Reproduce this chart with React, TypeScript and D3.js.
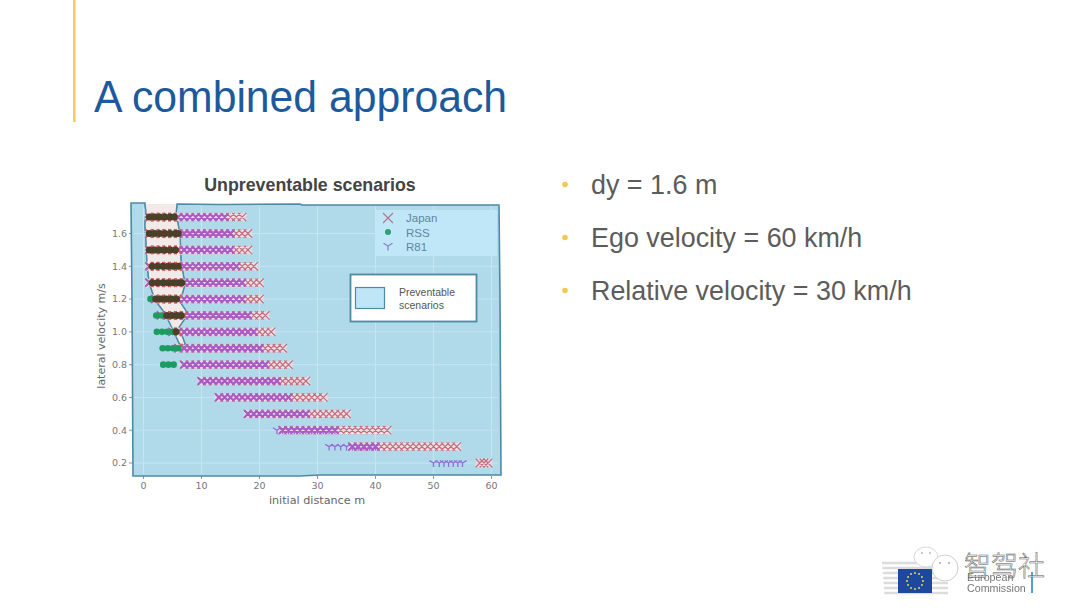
import React from "react";
import * as d3 from "d3";

const velocities = [1.7, 1.6, 1.5, 1.4, 1.3, 1.2, 1.1, 1.0, 0.9, 0.8, 0.7, 0.6, 0.5, 0.4, 0.3, 0.2];
const japanDistances: number[][] = [
  [1,2,3,4,5,6,7,8,9,10,11,12,13,14,15,16,17],
  [1,2,3,4,5,6,7,8,9,10,11,12,13,14,15,16,17,18],
  [1,2,3,4,5,6,7,8,9,10,11,12,13,14,15,16,17,18],
  [1,2,3,4,5,6,7,8,9,10,11,12,13,14,15,16,17,18,19],
  [1,2,3,4,5,6,7,8,9,10,11,12,13,14,15,16,17,18,19,20],
  [2,3,4,5,6,7,8,9,10,11,12,13,14,15,16,17,18,19,20],
  [3,4,5,6,7,8,9,10,11,12,13,14,15,16,17,18,19,20,21],
  [5,6,7,8,9,10,11,12,13,14,15,16,17,18,19,20,21,22],
  [6,7,8,9,10,11,12,13,14,15,16,17,18,19,20,21,22,23,24],
  [7,8,9,10,11,12,13,14,15,16,17,18,19,20,21,22,23,24,25],
  [10,11,12,13,14,15,16,17,18,19,20,21,22,23,24,25,26,27,28],
  [13,14,15,16,17,18,19,20,21,22,23,24,25,26,27,28,29,30,31],
  [18,19,20,21,22,23,24,25,26,27,28,29,30,31,32,33,34,35],
  [24,25,26,27,28,29,30,31,32,33,34,35,36,37,38,39,40,41,42],
  [36,37,38,39,40,41,42,43,44,45,46,47,48,49,50,51,52,53,54],
  [58,58.7,59.4],
];
const r81Distances: number[][] = [
  [1,2,3,4,5,6,7,8,9,10,11,12,13,14],
  [1,2,3,4,5,6,7,8,9,10,11,12,13,14,15],
  [1,2,3,4,5,6,7,8,9,10,11,12,13,14,15],
  [1,2,3,4,5,6,7,8,9,10,11,12,13,14,15,16],
  [1,2,3,4,5,6,7,8,9,10,11,12,13,14,15,16,17],
  [2,3,4,5,6,7,8,9,10,11,12,13,14,15,16,17],
  [3,4,5,6,7,8,9,10,11,12,13,14,15,16,17,18],
  [5,6,7,8,9,10,11,12,13,14,15,16,17,18,19],
  [6,7,8,9,10,11,12,13,14,15,16,17,18,19,20],
  [7,8,9,10,11,12,13,14,15,16,17,18,19,20,21],
  [10,11,12,13,14,15,16,17,18,19,20,21,22,23],
  [13,14,15,16,17,18,19,20,21,22,23,24,25],
  [18,19,20,21,22,23,24,25,26,27,28],
  [23,24,25,26,27,28,29,30,31,32,33],
  [32,33,34,35,36,37,38,39,40],
  [50,51,51.8,52.6,53.4,54.2,55],
];
const rssDistances: number[][] = [
  [1,1.9,2.8,3.7,4.6,5.3],
  [1,1.9,2.8,3.7,4.6,5.5,6],
  [1,1.9,2.8,3.7,4.6,5.5],
  [1.5,2.4,3.3,4.2,5.1,6],
  [1.5,2.4,3.3,4.2,5.1,6,6.6],
  [1.2,2.1,3,3.9,4.8,5.7],
  [2.2,3.1,4,4.9,5.8,6.5],
  [2.3,3.2,4.1,5,5.6],
  [3.3,4.2,5.1,6],
  [3.4,4.3,5.2],
];
const xTicks = [0, 10, 20, 30, 40, 50, 60];
const yTicks = [0.2, 0.4, 0.6, 0.8, 1.0, 1.2, 1.4, 1.6];
const bullets = ["dy = 1.6 m", "Ego velocity = 60 km/h", "Relative velocity = 30 km/h"];
const legendNames = ["Japan", "RSS", "R81"];
const titleText = "A combined approach";
const chartTitle = "Unpreventable scenarios";
const xLabel = "initial distance m";
const yLabel = "lateral velocity m/s";

const overlayOutline: [number, number][] = [
  [131,203],[145,203],[146,212],[145,225],[146,240],[147,262],[149,282],[155,300],[165,313],[173,330],[181,347],
  [185,344],[179,327],[188,314],[180,302],[185,284],[181,263],[180,234],[176,214],[177,204],[220,204.5],[300,204],[302,205],[499,205],
  [500,300],[501,475],[320,475],[300,476],[133,476],[132,300],
];
const cutout: [number, number][] = [
  [145,204],[146,212],[145,225],[146,240],[147,262],[149,282],[155,300],[165,313],[173,330],[181,347],
  [185,344],[179,327],[188,314],[180,302],[185,284],[181,263],[180,234],[176,214],[177,204],
];

const x = d3.scaleLinear().domain([0, 60]).range([143.5, 491.5]);
const y = d3.scaleLinear().domain([0.2, 1.6]).range([463, 233.5]);
const line = d3.line();
const sans = "'Liberation Sans', Arial, sans-serif";
const dejavu = "'DejaVu Sans', sans-serif";
const edge = "#4d8aa6";

const xMark = (cx: number, cy: number, s = 4) => `M${cx - s},${cy - s}L${cx + s},${cy + s}M${cx - s},${cy + s}L${cx + s},${cy - s}`;
const yMark = (cx: number, cy: number, s = 4) => `M${cx},${cy}L${cx},${cy + s}M${cx},${cy}L${cx - s},${cy - s * 0.6}M${cx},${cy}L${cx + s},${cy - s * 0.6}`;
const rowPath = (rows: number[][], m: (a: number, b: number) => string) =>
  rows.map((r, i) => r.map((d) => m(x(d), y(velocities[i]))).join("")).join("");

const starAngles = d3.range(12).map((i) => (i * Math.PI) / 6);
const rssPoints = rssDistances.flatMap((r, i) => r.map((d) => ({ key: `${i}-${d}`, cx: x(d), cy: y(velocities[i]) })));
const rssInside = rssPoints.filter((p) => d3.polygonContains(cutout, [p.cx, p.cy]));
const rssOutside = rssPoints.filter((p) => !d3.polygonContains(cutout, [p.cx, p.cy]));

export default function App() {
  const japan = rowPath(japanDistances, (a, b) => xMark(a, b, 4.2));
  const japanUnder = rowPath(japanDistances, (a, b) => xMark(a, b, 3.6));
  const r81Lone = rowPath(r81Distances.map((r, i) => (i >= 13 ? r : [])), (a, b) => yMark(a, b, 4));
  const r81Over = rowPath(r81Distances.map((r, i) => r.filter((d) => japanDistances[i].some((j) => Math.abs(j - d) < 0.6))), (a, b) => xMark(a, b, 3.6));
  return (
    <svg width={1080} height={613} viewBox="0 0 1080 613" style={{ position: "fixed", left: 0, top: 0, background: "#fff" }}>
      <defs>
        <clipPath id="cut"><path d={line(cutout) + "Z"} /></clipPath>
        <filter id="soft" x="-5%" y="-5%" width="110%" height="110%"><feGaussianBlur stdDeviation="0.4" /></filter>
      </defs>

      <rect x={73} y={0} width={2.6} height={122} fill="#f6cf5a" />
      <text x={94} y={112} fontFamily={sans} fontSize={44} fill="#1c5a9c" textLength={413} lengthAdjust="spacingAndGlyphs">{titleText}</text>

      {bullets.map((b, i) => (
        <g key={b}>
          <circle cx={565} cy={184.5 + i * 53} r={2.8} fill="#f2c94c" />
          <text x={591} y={194 + i * 53} fontFamily={sans} fontSize={26.9} fill="#5c5c5c">{b}</text>
        </g>
      ))}

      <text x={310} y={191} textAnchor="middle" fontFamily={sans} fontWeight={700} fontSize={17.8} fill="#444">{chartTitle}</text>

      <g filter="url(#soft)">
        <path d={line(overlayOutline) + "Z"} fill="#b0d9ea" stroke={edge} strokeWidth={1.6} />
        <path d={line(cutout) + "Z"} fill="#f2e9e8" />
        <path d={line(cutout)!} fill="none" stroke={edge} strokeWidth={1.3} />
        {xTicks.map((t) => <line key={t} x1={x(t)} x2={x(t)} y1={206} y2={474} stroke="#c5e5f1" strokeWidth={1} />)}
        {yTicks.map((t) => <line key={t} x1={134} x2={498} y1={y(t)} y2={y(t)} stroke="#c5e5f1" strokeWidth={1} />)}
        <rect x={376} y={210} width={121} height={46} fill="#c0e7f8" />

        <path d={japanUnder} fill="none" stroke="#efdfe6" strokeWidth={4} />
        <path d={japan} fill="none" stroke="#c0707f" strokeWidth={1.3} />
        <path d={r81Lone} fill="none" stroke="#8f6fd6" strokeWidth={1.3} />
        <path d={r81Over} fill="none" stroke="#a85cc4" strokeWidth={2.2} />
        <g clipPath="url(#cut)">
          <path d={japan} fill="none" stroke="#d06050" strokeWidth={1.5} />
        </g>
        {rssOutside.map((p) => <circle key={p.key} cx={p.cx} cy={p.cy} r={3.3} fill="#1f9c62" />)}
        {rssInside.map((p) => <circle key={p.key} cx={p.cx} cy={p.cy} r={3.5} fill="#4b3f2b" />)}

        <path d={xMark(388, 218, 5)} fill="none" stroke="#b77a90" strokeWidth={1.3} />
        <circle cx={388} cy={232} r={3} fill="#2f9e73" />
        <path d={yMark(388, 246, 4.5)} fill="none" stroke="#8a80cc" strokeWidth={1.3} />
      </g>

      {legendNames.map((n, i) => (
        <text key={n} x={406} y={222 + i * 14.5} fontFamily={sans} fontSize={11.5} fill="#63859b">{n}</text>
      ))}

      <rect x={350.5} y={274.5} width={126} height={47} fill="#fff" stroke={edge} strokeWidth={1.8} />
      <rect x={355.5} y={287.5} width={29} height={21} fill="#bfe6f7" stroke={edge} strokeWidth={1.2} />
      <text x={399} y={296} fontFamily={sans} fontSize={10.5} fill="#555">Preventable</text>
      <text x={399} y={309} fontFamily={sans} fontSize={10.5} fill="#555">scenarios</text>

      {xTicks.map((t) => (
        <g key={t}>
          <line x1={x(t)} x2={x(t)} y1={476} y2={479} stroke="#777" strokeWidth={0.8} />
          <text x={x(t)} y={489} textAnchor="middle" fontFamily={dejavu} fontSize={9.5} fill="#777">{t}</text>
        </g>
      ))}
      {yTicks.map((t) => (
        <g key={t}>
          <line x1={129} x2={132} y1={y(t)} y2={y(t)} stroke="#777" strokeWidth={0.8} />
          <text x={127} y={y(t) + 3.4} textAnchor="end" fontFamily={dejavu} fontSize={9.5} fill="#777">{t.toFixed(1)}</text>
        </g>
      ))}
      <text x={317} y={504} textAnchor="middle" fontFamily={dejavu} fontSize={11.2} fill="#666">{xLabel}</text>
      <text transform="translate(105,336) rotate(-90)" textAnchor="middle" fontFamily={dejavu} fontSize={11} fill="#666">{yLabel}</text>

      <g filter="url(#soft)">
        {d3.range(7).map((i) => (
          <line key={i} x1={882 + i * 0.4} x2={948} y1={563 + i * 5} y2={563 + i * 5} stroke="#dcdcdc" strokeWidth={2.4} />
        ))}
        <rect x={898} y={569} width={34} height={24} fill="#1f4a9c" />
        {starAngles.map((a) => (
          <circle key={a} cx={915 + 8 * Math.cos(a)} cy={581 + 8 * Math.sin(a)} r={1} fill="#f3d24a" />
        ))}
        <ellipse cx={926} cy={557} rx={12} ry={10} fill="#fff" stroke="#d8d8d8" strokeWidth={1} />
        <ellipse cx={945} cy={568} rx={13} ry={13} fill="#fff" stroke="#cfcfcf" strokeWidth={1} />
        <circle cx={922} cy={553} r={1} fill="#bbb" />
        <circle cx={930} cy={553} r={1} fill="#bbb" />
        <circle cx={940} cy={563} r={1} fill="#aaa" />
        <circle cx={949} cy={563} r={1} fill="#aaa" />
        <text x={967} y={581} fontFamily={sans} fontSize={10.7} fill="#777">European</text>
        <text x={967} y={592} fontFamily={sans} fontSize={10.7} fill="#777">Commission</text>
        <rect x={1031} y={572} width={2} height={21} fill="#4f9fd0" />
      </g>
      <text x={964} y={576} fontFamily="'Noto Sans CJK SC'" fontWeight={300} fontSize={27} fill="#fff" fillOpacity={0.6} stroke="#555" strokeWidth={0.5}>智驾社</text>
    </svg>
  );
}
